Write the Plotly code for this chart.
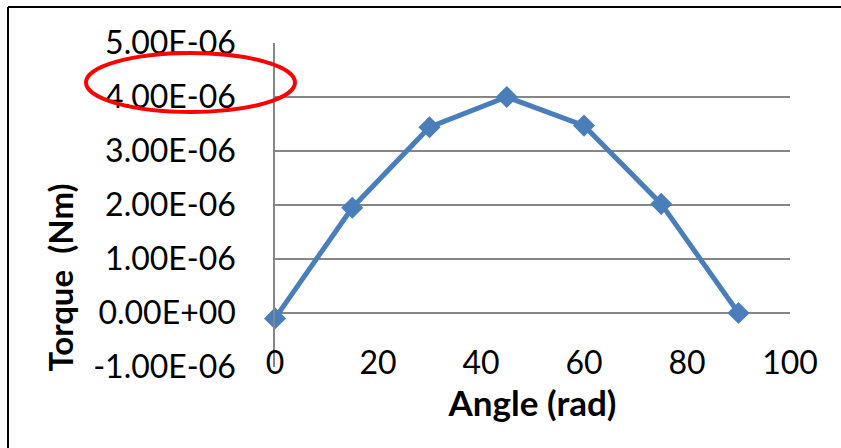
import plotly.graph_objects as go

# Data
angle = [0, 15, 30, 45, 60, 75, 90]
torque = [-1.0e-7, 1.95e-6, 3.44e-6, 4.0e-6, 3.47e-6, 2.02e-6, 0.0]
x_ticks = [0, 20, 40, 60, 80, 100]
y_ticks = [-1e-6, 0, 1e-6, 2e-6, 3e-6, 4e-6, 5e-6]
y_tick_labels = ["-1.00E-06", "0.00E+00", "1.00E-06", "2.00E-06", "3.00E-06", "4.00E-06", "5.00E-06"]
x_title = "Angle (rad)"
y_title = "Torque\u00a0 (Nm)"

W, H = 841, 448
L, R, T, B = 275, 51, 43, 81
pw, ph = W - L - R, H - T - B

def px(xp):
    return (xp - L) / pw

def py(yp):
    return (H - B - yp) / ph

FONT = "Lato"
BLUE = "#4A7EBB"
GRID = "#868686"

fig = go.Figure()
fig.add_trace(go.Scatter(
    x=angle, y=torque, mode="lines+markers",
    line=dict(color=BLUE, width=5),
    marker=dict(symbol="diamond", size=17, color=BLUE),
    showlegend=False, cliponaxis=False,
))

fig.update_layout(
    width=W, height=H,
    margin=dict(l=L, r=R, t=T, b=B, autoexpand=False),
    paper_bgcolor="white", plot_bgcolor="white",
    font=dict(family=FONT, color="black"),
    xaxis=dict(
        range=[0, 100], tickvals=x_ticks, showgrid=False, zeroline=False,
        showline=False, ticks="", tickfont=dict(size=32, family=FONT),
        ticklabelstandoff=-26,
        title=dict(text="<b>" + x_title + "</b>", font=dict(size=35, family=FONT), standoff=0),
    ),
    yaxis=dict(
        range=[-1e-6, 5e-6], tickvals=y_ticks, ticktext=y_tick_labels,
        showgrid=True, gridcolor=GRID, gridwidth=1.5, zeroline=False,
        showline=True, linecolor=GRID, linewidth=1.5, ticks="",
        tickfont=dict(size=32, family=FONT), ticklabelstandoff=31,
    ),
    annotations=[
        dict(text="<b>" + y_title + "</b>", xref="paper", yref="paper",
             x=px(59), y=py(277.5), xanchor="center", yanchor="middle",
             textangle=-90, showarrow=False, font=dict(size=33, family=FONT)),
    ],
    shapes=[
        dict(type="circle", xref="paper", yref="paper",
             x0=px(86), x1=px(295), y0=py(112), y1=py(53),
             line=dict(color="#FF0000", width=4)),
        dict(type="line", xref="paper", yref="paper",
             x0=px(8), x1=px(845), y0=py(7), y1=py(7),
             line=dict(color="black", width=2)),
        dict(type="line", xref="paper", yref="paper",
             x0=px(8), x1=px(8), y0=py(7), y1=py(452),
             line=dict(color="black", width=2)),
    ],
)

fig.write_html("out.html")
